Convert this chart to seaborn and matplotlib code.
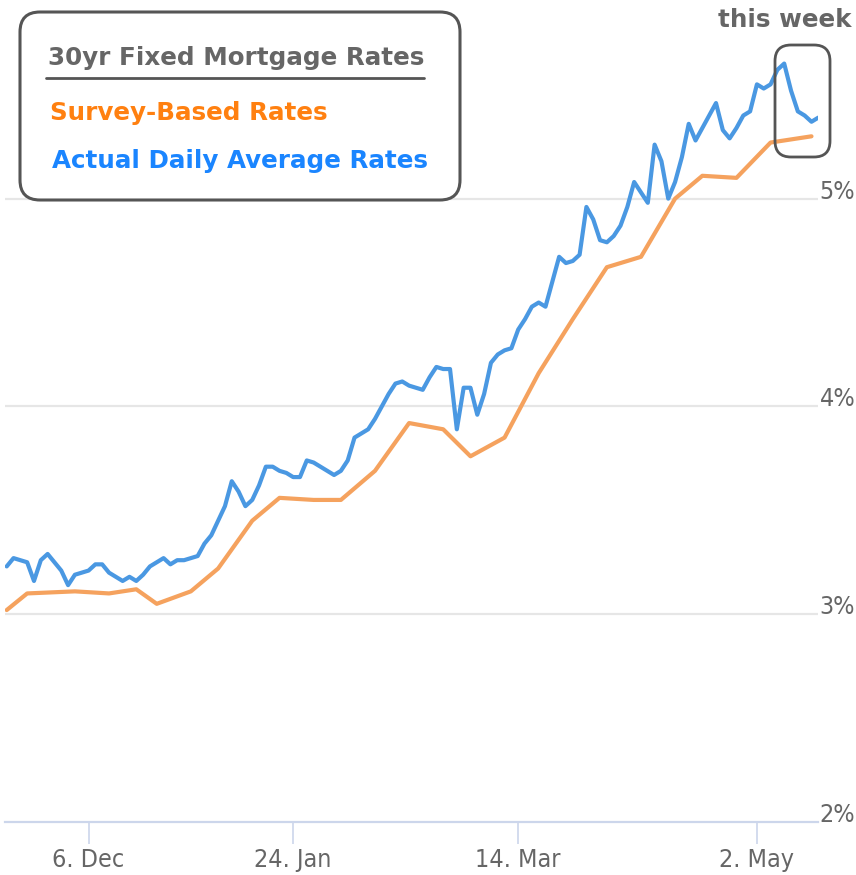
import numpy as np
import pandas as pd
import matplotlib
matplotlib.use('Agg')
import matplotlib.pyplot as plt
import seaborn as sns
from matplotlib import font_manager as fm
from matplotlib.patches import FancyBboxPatch
from matplotlib.lines import Line2D
from matplotlib.transforms import IdentityTransform

# daily average rate, one value per trading day (ordinal axis)
daily_rates = [
    3.23, 3.27, 3.26, 3.25, 3.16, 3.26, 3.29, 3.25, 3.21, 3.14,
    3.19, 3.20, 3.21, 3.24, 3.24, 3.20, 3.18, 3.16, 3.18, 3.16,
    3.19, 3.23, 3.25, 3.27, 3.24, 3.26, 3.26, 3.27, 3.28, 3.34,
    3.38, 3.45, 3.52, 3.64, 3.59, 3.52, 3.55, 3.62, 3.71, 3.71,
    3.69, 3.68, 3.66, 3.66, 3.74, 3.73, 3.71, 3.69, 3.67, 3.69,
    3.74, 3.85, 3.87, 3.89, 3.94, 4.00, 4.06, 4.11, 4.12, 4.10,
    4.09, 4.08, 4.14, 4.19, 4.18, 4.18, 3.89, 4.09, 4.09, 3.96,
    4.06, 4.21, 4.25, 4.27, 4.28, 4.37, 4.42, 4.48, 4.50, 4.48,
    4.60, 4.72, 4.69, 4.70, 4.73, 4.96, 4.90, 4.80, 4.79, 4.82,
    4.87, 4.96, 5.08, 5.03, 4.98, 5.26, 5.18, 5.00, 5.08, 5.20,
    5.36, 5.28, 5.34, 5.40, 5.46, 5.33, 5.29, 5.34, 5.40, 5.42,
    5.55, 5.53, 5.55, 5.62, 5.65, 5.52, 5.42, 5.40, 5.37, 5.39,
]

# weekly survey rate, placed on the trading-day index it was published
survey_days = [0, 3, 10, 15, 19, 22, 27, 31, 36, 40, 45, 49, 54, 59, 64,
               68, 73, 78, 83, 88, 93, 98, 102, 107, 112, 118]
survey_rates = [3.02, 3.10, 3.11, 3.10, 3.12, 3.05, 3.11, 3.22, 3.45, 3.56,
                3.55, 3.55, 3.69, 3.92, 3.89, 3.76, 3.85, 4.16, 4.42, 4.67,
                4.72, 5.00, 5.11, 5.10, 5.27, 5.30]

tick_days = [12, 42, 75, 110]
tick_labels = ['6. Dec', '24. Jan', '14. Mar', '2. May']
y_ticks = [2, 3, 4, 5]

BLUE_LINE = '#4a98e2'
ORANGE_LINE = '#f5a25e'
BLUE_TEXT = '#1a85ff'
ORANGE_TEXT = '#ff8010'
GREY_TEXT = '#666666'


def narrow_font():
    # axis labels in the original use a narrow face; pick whatever is installed
    wanted = ['LiberationSansNarrow-Regular', 'DejaVuSansCondensed.',
              'RobotoCondensed-Regular', 'OpenSans_Condensed-Regular',
              'OpenSansCondensed-Regular']
    files = [f.fname for f in fm.fontManager.ttflist]
    for key in wanted:
        for path in files:
            if key in path.split('/')[-1]:
                return fm.FontProperties(fname=path, size=18)
    return fm.FontProperties(family='DejaVu Sans', size=15)


sns.set_theme(style='white')
plt.rcParams['font.family'] = ['DejaVu Sans']

daily = pd.DataFrame({'day': np.arange(len(daily_rates)), 'rate': daily_rates})
survey = pd.DataFrame({'day': survey_days, 'rate': survey_rates})

W, H = 856, 875
fig = plt.figure(figsize=(W / 100, H / 100), dpi=100)
ax = fig.add_axes([5 / W, 53 / H, 813.3 / W, 822 / H])

for v in y_ticks[1:]:
    ax.axhline(v, color='#e6e6e6', lw=1.6, zorder=0)

sns.lineplot(data=survey, x='day', y='rate', color=ORANGE_LINE, lw=3.0, ax=ax)
sns.lineplot(data=daily, x='day', y='rate', color=BLUE_LINE, lw=3.0, ax=ax)

ax.set_xlim(-0.25, len(daily_rates) - 1)
ax.set_ylim(2, 5.956)
ax.set_xlabel('')
ax.set_ylabel('')

for side in ['top', 'left', 'right']:
    ax.spines[side].set_visible(False)
ax.spines['bottom'].set_color('#ccd6eb')
ax.spines['bottom'].set_linewidth(1.6)

lab_font = narrow_font()

ax.set_xticks(tick_days, tick_labels)
ax.tick_params(axis='x', length=16, width=1.2, color='#ccd6eb', pad=3,
               labelcolor=GREY_TEXT, bottom=True)

ax.yaxis.tick_right()
ax.set_yticks(y_ticks, [f'{v}%' for v in y_ticks])
ax.tick_params(axis='y', length=0, pad=1, labelcolor=GREY_TEXT)
for lbl in ax.get_yticklabels():
    lbl.set_va('baseline')
for lbl in ax.get_xticklabels() + ax.get_yticklabels():
    lbl.set_fontproperties(lab_font)

# legend box, drawn in pixel coordinates
px = IdentityTransform()
fig.add_artist(FancyBboxPatch((20, H - 200), 440, 188,
                              boxstyle='round,pad=0,rounding_size=20',
                              facecolor='white', edgecolor='#555555',
                              lw=2.2, transform=px))
fig.text(48, H - 65, '30yr Fixed Mortgage Rates', transform=px,
         fontsize=17.7, fontweight='bold', color=GREY_TEXT, va='baseline')
fig.add_artist(Line2D([46, 424], [H - 78, H - 78], color='#555555', lw=2,
                      transform=px))
fig.text(50, H - 120, 'Survey-Based Rates', transform=px,
         fontsize=17.7, fontweight='bold', color=ORANGE_TEXT, va='baseline')
fig.text(52, H - 168, 'Actual Daily Average Rates', transform=px,
         fontsize=17.7, fontweight='bold', color=BLUE_TEXT, va='baseline')

# "this week" marker
fig.text(852, H - 27, 'this week', transform=px, ha='right',
         fontsize=17.7, fontweight='bold', color=GREY_TEXT, va='baseline')
fig.add_artist(FancyBboxPatch((775, H - 157), 55, 112,
                              boxstyle='round,pad=0,rounding_size=16',
                              fill=False, edgecolor='#555555',
                              lw=2.0, transform=px))

fig.savefig('out.png', dpi=100)
